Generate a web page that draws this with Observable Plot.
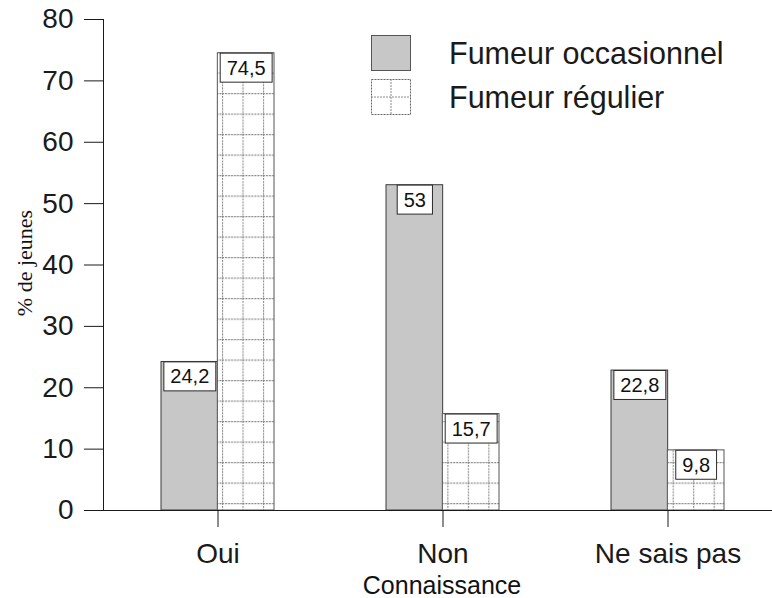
<!DOCTYPE html>
<html><head><meta charset="utf-8">
<script src="https://cdn.jsdelivr.net/npm/d3@7"></script>
<script src="https://cdn.jsdelivr.net/npm/@observablehq/plot@0.6"></script>
<style>
body{margin:0;background:#fff;}
#wrap{position:relative;width:772px;height:598px;font-family:"Liberation Sans",Arial,sans-serif;}
#legend{position:absolute;left:371px;top:35px;}
.row{display:flex;align-items:center;height:36px;margin-bottom:8px;}
.row svg{display:block;flex:none}
.row span{margin-left:38px;font-size:30.5px;color:#1a1a1a;line-height:36px;white-space:nowrap}
</style></head><body>
<div id="wrap">
  <div id="legend"></div>
</div>
<script>
const categories = ["Oui", "Non", "Ne sais pas"];
const occasionnel = [24.2, 53, 22.8];
const regulier = [74.5, 15.7, 9.8];
const yTicks = [0, 10, 20, 30, 40, 50, 60, 70, 80];
const series = ["Fumeur occasionnel", "Fumeur régulier"];
const xLabel = "Connaissance";
const yLabel = "% de jeunes";

const rows = categories.flatMap((c, i) => [
  {cat: c, serie: series[0], v: occasionnel[i]},
  {cat: c, serie: series[1], v: regulier[i]}
]);
const occ = rows.filter(d => d.serie === series[0]);
const reg = rows.filter(d => d.serie === series[1]);
const fmt = v => String(v).replace(".", ",");

const xRange = [104, 780];
const step = (xRange[1] - xRange[0]) / categories.length;
const half = step * 0.5 / 2;
const grayFill = "#c7c7c7";
const cellW = step / 11;
const cellH = 20.5;

const plot = Plot.plot({
  width: 772, height: 598,
  marginLeft: 103, marginRight: 0, marginTop: 19, marginBottom: 88,
  style: {fontFamily: "Liberation Sans, Arial, sans-serif", fontSize: "28px", color: "#1a1a1a", background: "#fff", overflow: "visible"},
  x: {domain: categories, range: xRange, paddingInner: 0.5, paddingOuter: 0.25, tickSize: 17, tickPadding: 16, label: null},
  y: {domain: [0, 80], ticks: yTicks, tickSize: 19, tickPadding: 11, line: true, label: null},
  marks: [
    Plot.barY(occ, {x: "cat", y: "v", insetRight: half, fill: grayFill, stroke: "#3a3a3a", strokeWidth: 1}),
    Plot.barY(reg, {x: "cat", y: "v", insetLeft: half, fill: "url(#grille)", stroke: "#555", strokeWidth: 1, ariaLabel: "regulier"}),
    Plot.ruleY([0], {stroke: "#1a1a1a", strokeWidth: 1}),
    Plot.text(occ, {x: "cat", y: "v", text: d => fmt(d.v), dx: -half / 2, dy: 15, fontSize: 20, fill: "#111", textAnchor: "middle", lineAnchor: "middle", ariaLabel: "valeurs"}),
    Plot.text(reg, {x: "cat", y: "v", text: d => fmt(d.v), dx: half / 2, dy: 15, fontSize: 20, fill: "#111", textAnchor: "middle", lineAnchor: "middle", ariaLabel: "valeurs"}),
    Plot.text([xLabel], {frameAnchor: "bottom", dx: 4, dy: 75, fontSize: 25, fill: "#111", textAnchor: "middle", lineAnchor: "middle"}),
    Plot.text([yLabel], {frameAnchor: "left", rotate: -90, dx: -79, dy: -2, fontSize: 22, fontFamily: "Liberation Serif, Times New Roman, serif", fill: "#111", textAnchor: "middle", lineAnchor: "middle"})
  ]
});

const wrap = document.getElementById("wrap");
wrap.insertBefore(plot, wrap.firstChild);
const NS = "http://www.w3.org/2000/svg";

// grid pattern defined inside the plot svg
const defs = document.createElementNS(NS, "defs");
defs.innerHTML = `<pattern id="grille" patternUnits="userSpaceOnUse" x="0" y="0" width="${cellW}" height="${cellH}" patternTransform="translate(17.15,11)">
<rect width="${cellW}" height="${cellH}" fill="#fff"/>
<line x1="0.5" y1="0" x2="0.5" y2="${cellH}" stroke="#8a8a8a" stroke-width="1.2" stroke-dasharray="2,1"/>
<line x1="0" y1="0.5" x2="${cellW}" y2="0.5" stroke="#8a8a8a" stroke-width="1.2" stroke-dasharray="2,1"/>
</pattern>`;
plot.insertBefore(defs, plot.firstChild);

// white boxes behind value labels
const labelSet = new Set(rows.map(d => fmt(d.v)));
let texts = Array.from(plot.querySelectorAll('g[aria-label="valeurs"] text'));
if (!texts.length) texts = Array.from(plot.querySelectorAll("text")).filter(t => labelSet.has(t.textContent) && !t.closest('g[aria-label$="axis"]'));
texts.forEach(t => {
  const bb = t.getBBox();
  const r = document.createElementNS(NS, "rect");
  r.setAttribute("x", bb.x - 6.5);
  r.setAttribute("y", bb.y - 3.5);
  r.setAttribute("width", bb.width + 13);
  r.setAttribute("height", bb.height + 7);
  r.setAttribute("fill", "#fff");
  r.setAttribute("stroke", "#2a2a2a");
  r.setAttribute("stroke-width", "1");
  const tr = t.getAttribute("transform");
  if (tr) r.setAttribute("transform", tr);
  t.parentNode.insertBefore(r, t);
});

// legend
const legend = document.getElementById("legend");
const swatches = [
  `<svg width="40" height="36"><rect x="0.5" y="0.5" width="39" height="35" fill="${grayFill}" stroke="#555"/></svg>`,
  `<svg width="40" height="36"><rect x="0.5" y="0.5" width="39" height="35" fill="#fff" stroke="#666" stroke-dasharray="2,1"/><line x1="20" y1="0" x2="20" y2="36" stroke="#8a8a8a" stroke-dasharray="2,1"/><line x1="0" y1="18" x2="40" y2="18" stroke="#8a8a8a" stroke-dasharray="2,1"/></svg>`
];
series.forEach((s, i) => {
  const row = document.createElement("div");
  row.className = "row";
  row.innerHTML = swatches[i];
  const span = document.createElement("span");
  span.textContent = s;
  row.appendChild(span);
  legend.appendChild(row);
});
</script>
</body></html>
